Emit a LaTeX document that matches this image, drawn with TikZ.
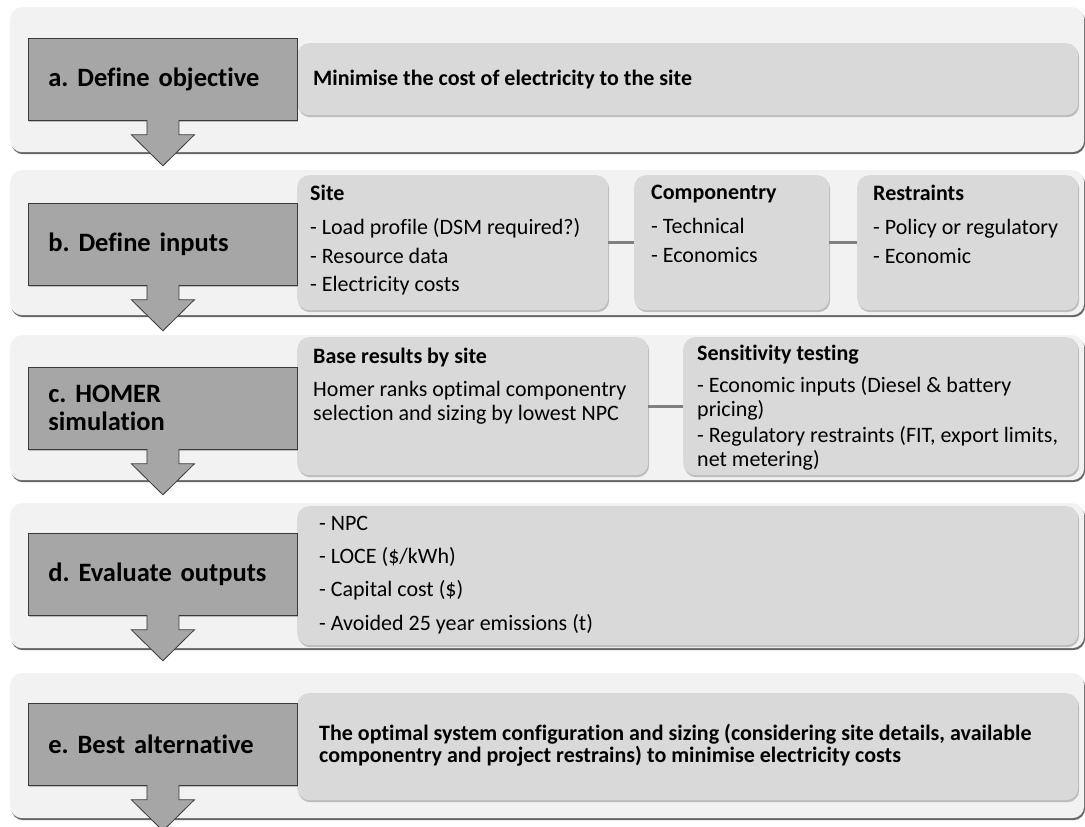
\documentclass[tikz,border=0pt]{standalone}
\usepackage{fontspec}
\setmainfont{Carlito}[Ligatures=NoCommon]
\frenchspacing
\usetikzlibrary{positioning,calc,shadows}
\definecolor{panelgray}{HTML}{F2F2F2}
\definecolor{infogray}{HTML}{D9D9D9}
\definecolor{stepgray}{HTML}{A6A6A6}
\definecolor{linkgray}{HTML}{808080}
\definecolor{edgegray}{HTML}{3A3A3A}

\begin{document}
\begin{tikzpicture}[
  x=1pt, y=-1pt,
  panel/.style={
    fill=panelgray, rounded corners=12pt,
    minimum width=1074pt, minimum height=145pt,
    anchor=north west, inner sep=0pt,
    drop shadow={shadow xshift=1pt, shadow yshift=-2pt, fill=black!60, opacity=1}
  },
  stepbox/.style={
    draw=edgegray, fill=stepgray, line width=0.8pt,
    minimum width=269pt, minimum height=82pt,
    text width=229pt, inner xsep=20pt, align=left,
    anchor=north west, font=\fontsize{26.5}{28}\selectfont\bfseries,
    drop shadow={shadow xshift=1pt, shadow yshift=-1.5pt, fill=black!40, opacity=.6}
  },
  infobox/.style={
    fill=infogray, rounded corners=12pt,
    anchor=north west, inner sep=0pt,
    drop shadow={shadow xshift=1pt, shadow yshift=-2pt, fill=black!35, opacity=.7}
  },
  infotext/.style={
    anchor=north west, inner sep=0pt, align=left,
    font=\fontsize{22}{28.5}\selectfont,
    execute at begin node=\rule{0pt}{17pt}
  },
  link/.style={draw=linkgray, line width=3pt},
  blockarrow/.style={fill=stepgray, draw=edgegray, line width=0.8pt},
]
\useasboundingbox (0,0) rectangle (1085,827);
\fill[white] (0,0) rectangle (1085,827);

% Row panels
\node[panel] (rowa) at (10,7) {};
\node[panel] (rowb) at (10,170) {};
\node[panel] (rowc) at (10,335) {};
\node[panel] (rowd) at (10,503) {};
\node[panel] (rowe) at (10,673) {};

% Detail boxes
\node[infobox, minimum width=781pt, minimum height=72pt] (objective) at (297,43) {};
\node[infobox, minimum width=311pt, minimum height=135pt] (site) at (297,175) {};
\node[infobox, minimum width=195pt, minimum height=135pt] (comp) at (634,175) {};
\node[infobox, minimum width=221pt, minimum height=135pt] (restr) at (857,175) {};
\node[infobox, minimum width=351pt, minimum height=138pt] (base) at (297,337) {};
\node[infobox, minimum width=395pt, minimum height=138pt] (sens) at (683,337) {};
\node[infobox, minimum width=781pt, minimum height=139pt] (outputs) at (297,506) {};
\node[infobox, minimum width=781pt, minimum height=107pt] (best) at (297,693) {};

% Links between detail boxes
\draw[link] (site) -- (comp);
\draw[link] (comp) -- (restr);
\draw[link] (base) -- (sens);

% Step boxes
\node[stepbox] (stepa) at (28,38) {a. Define objective};
\node[stepbox] (stepb) at (28,203) {b. Define inputs};
\node[stepbox] (stepc) at (28,367) {c. HOMER\\simulation};
\node[stepbox] (stepd) at (28,533) {d. Evaluate outputs};
\node[stepbox] (stepe) at (28,703) {e. Best alternative};

% Texts in the detail boxes
\node[infotext, font=\fontsize{22}{28.5}\selectfont\bfseries] (objtxt) at (313,68)
  {Minimise the cost of electricity to the site};
\node[infotext] (sitetxt) at (310,185)
  {\textbf{Site}\\[5.5pt]- Load profile (DSM required?)\\- Resource data\\- Electricity costs};
\node[infotext] (comptxt) at (651,185)
  {\textbf{Componentry}\\[5.5pt]- Technical\\- Economics};
\node[infotext] (restrtxt) at (873,185)
  {\textbf{Restraints}\\[5.5pt]- Policy or regulatory\\- Economic};
\node[infotext, font=\fontsize{22}{23.5}\selectfont] (basetxt) at (313,348)
  {\textbf{Base results by site}\\[9.5pt]Homer ranks optimal componentry\\selection and sizing by lowest NPC};
\node[infotext, font=\fontsize{22}{24}\selectfont] (senstxt) at (697,344.5)
  {\textbf{Sensitivity testing}\\[8.5pt]- Economic inputs (Diesel \& battery\\pricing)\\[2pt]- Regulatory restraints (FIT, export limits,\\net metering)};
\node[infotext, font=\fontsize{22}{33.3}\selectfont] (outtxt) at (319,515.7)
  {- NPC\\- LOCE (\$/kWh)\\- Capital cost (\$)\\- Avoided 25 year emissions (t)};
\node[infotext, font=\fontsize{22}{22}\selectfont\bfseries] (besttxt) at (319,724)
  {The optimal system configuration and sizing (considering site details, available\\componentry and project restrains) to minimise electricity costs};

% Block arrows below the step boxes
\foreach \s in {stepa,stepb,stepc,stepd,stepe}
  \draw[blockarrow] ($(\s.south)+(-16,-1)$) -- ++(0,15) -- ++(-15.5,0)
    -- ($(\s.south)+(0,45)$) -- ($(\s.south)+(31.5,14)$) -- ++(-15.5,0)
    -- ($(\s.south)+(16,-1)$);

\end{tikzpicture}
\end{document}
